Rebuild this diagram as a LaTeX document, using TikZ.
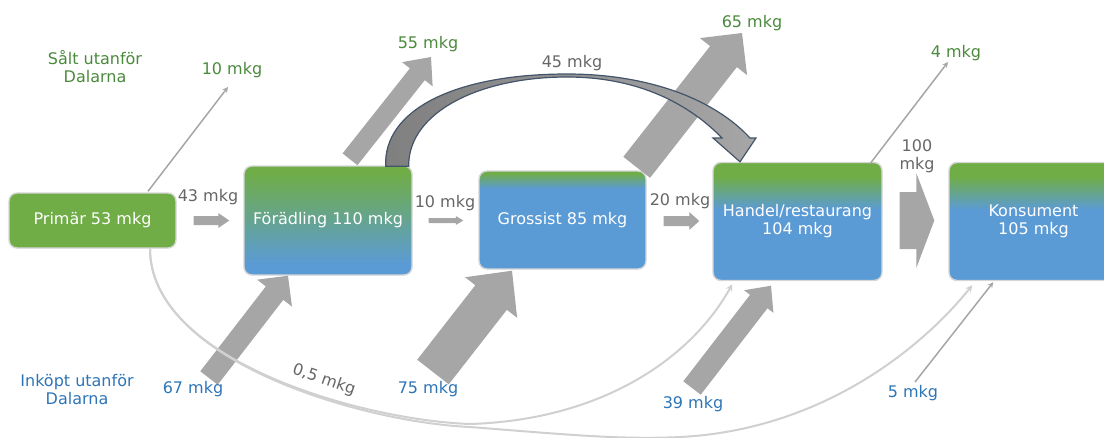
\documentclass[tikz,border=0pt]{standalone}
\usepackage{fontspec}
\setmainfont{DejaVu Sans}
\usetikzlibrary{calc}
\definecolor{boxgreen}{HTML}{70AD47}
\definecolor{boxblue}{HTML}{5B9BD5}
\definecolor{boxedge}{HTML}{D6D6D6}
\definecolor{flowgray}{HTML}{A6A6A6}
\definecolor{curvegray}{HTML}{D0D0D0}
\definecolor{arcdark}{HTML}{7F7F7F}
\definecolor{arcedge}{HTML}{44546A}
\definecolor{labgray}{HTML}{666666}
\definecolor{labgreen}{HTML}{4A8A3C}
\definecolor{labblue}{HTML}{2E75B6}
% box shadings, green on top
\pgfdeclareverticalshading{fshade}{100bp}{color(0bp)=(boxblue); color(30bp)=(boxblue); color(72bp)=(boxgreen); color(100bp)=(boxgreen)}
\pgfdeclareverticalshading{gshade}{100bp}{color(0bp)=(boxblue); color(66bp)=(boxblue); color(74bp)=(boxgreen); color(100bp)=(boxgreen)}
\pgfdeclareverticalshading{hshade}{100bp}{color(0bp)=(boxblue); color(55bp)=(boxblue); color(69bp)=(boxgreen); color(100bp)=(boxgreen)}
\begin{document}
\begin{tikzpicture}[x=1pt,y=-1pt,
	box/.style={rectangle,rounded corners=8pt,draw=boxedge,line width=1.4pt,text=white,align=center,inner sep=0pt,font=\fontsize{16}{18}\selectfont},
	lab/.style={align=center,inner sep=0pt,font=\fontsize{16}{18}\selectfont},
	thinflow/.style={draw=flowgray,line width=1.5pt,->,>=stealth},
	curveflow/.style={draw=curvegray,line width=2pt,->,>=stealth}]
	\useasboundingbox (0,0) rectangle (1104,437);
	% boxes
	\node[box,fill=boxgreen,minimum width=167pt,minimum height=55pt] (primar) at (92.5,220.5) {Primär 53 mkg};
	\node[box,shade,shading=fshade,minimum width=168pt,minimum height=109pt] (foradling) at (328,220.5) {Förädling 110 mkg};
	\node[box,shade,shading=gshade,minimum width=167pt,minimum height=98pt] (grossist) at (562.5,220) {Grossist 85 mkg};
	\node[box,shade,shading=hshade,minimum width=169pt,minimum height=118pt] (handel) at (797.5,221.5) {Handel/restaurang\\104 mkg};
	\node[box,shade,shading=hshade,minimum width=169pt,minimum height=118pt] (konsument) at (1033.5,221.5) {Konsument\\105 mkg};
	% block arrows
	\coordinate (a43s) at ($(primar.east)+(17,0)$);
	\coordinate (a43e) at ($(foradling.west)+(-14,0)$);
	\coordinate (a10s) at ($(foradling.east)+(16,0)$);
	\coordinate (a10e) at ($(grossist.west)+(-15,0.5)$);
	\coordinate (a20s) at ($(grossist.east)+(17,1)$);
	\coordinate (a20e) at ($(handel.west)+(-13,-0.5)$);
	\coordinate (a100s) at ($(handel.east)+(17,-1)$);
	\coordinate (a100e) at ($(konsument.west)+(-14,-1)$);
	\coordinate (a55s) at ($(foradling.north)+(22,-6)$);
	\coordinate (a55e) at (431,57);
	\coordinate (a65s) at ($(grossist.north east)+(-10,-3)$);
	\coordinate (a65e) at (742,33);
	\coordinate (a67s) at (209,378);
	\coordinate (a67e) at ($(foradling.south)+(-40,0)$);
	\coordinate (a75s) at (433,372);
	\coordinate (a75e) at ($(grossist.south)+(-50.5,1)$);
	\coordinate (a39s) at (692,388);
	\coordinate (a39e) at ($(handel.south)+(-26.5,4.5)$);
	\foreach \s/\t/\w/\h/\l in {a43s/a43e/4.5pt/7.5pt/11pt,a10s/a10e/2.5pt/4.5pt/7.5pt,a20s/a20e/5pt/9pt/10pt,a100s/a100e/28.5pt/47.5pt/18pt,a55s/a55e/9.5pt/19.5pt/22pt,a65s/a65e/17pt/30pt/30pt,a67s/a67e/11pt/22pt/22pt,a75s/a75e/20pt/33pt/34pt,a39s/a39e/11pt/18.5pt/20pt}{
		\coordinate (hb) at ($(\t)!\l!(\s)$);
		\fill[flowgray] ($(\s)!\w!90:(\t)$)--($(hb)!\w!90:(\t)$)--($(hb)!\h!90:(\t)$)--(\t)--($(hb)!\h!-90:(\t)$)--($(hb)!\w!-90:(\t)$)--($(\s)!\w!-90:(\t)$)--cycle;
	}
	% curved arrow 45 mkg
	\draw[arcedge,line width=1.2pt,left color=arcdark,right color=flowgray] ($(foradling.north east)+(-27,1)$) .. controls (383,110) and (455,74) .. (567,74) .. controls (650,74) and (715,100) .. (750,138)--(756,138)--($(handel.north)+(-57.5,0)$)--(713,138)--(722,138) .. controls (690,105) and (640,77) .. (567,77) .. controls (480,77) and (408,112) .. ($(foradling.north east)+(-4,1)$)--cycle;
	% thin arrows
	\coordinate (s10) at (228,87);
	\coordinate (s4) at (948,62);
	\coordinate (i5) at (915,382);
	\draw[thinflow] ($(primar.north)+(55.5,-1)$)--(s10);
	\draw[thinflow] ($(handel.north)+(72.5,2)$)--(s4);
	\draw[thinflow] (i5)--($(konsument.south west)+(45,1)$);
	\draw[curveflow] ($(primar.south)+(57.5,0)$) .. controls (150,360) and (360,420) .. (470,424) .. controls (600,420) and (690,360) .. ($(handel.south west)+(20,3)$);
	\draw[curveflow] ($(primar.south)+(57.5,0)$) .. controls (150,360) and (360,422) .. (470,427) .. controls (560,434) and (620,440) .. (680,437) .. controls (820,430) and (920,350) .. ($(konsument.south west)+(24,4)$);
	% labels
	\node[lab,text=labgreen] (salt) at (95,67) {Sålt utanför\\Dalarna};
	\node[lab,text=labblue] (inkopt) at (77,390) {Inköpt utanför\\Dalarna};
	\node[lab,text=labgreen] (l10) at (232,70) {10 mkg};
	\node[lab,text=labgreen] (l55) at (428,44) {55 mkg};
	\node[lab,text=labgray] (l45) at (572,63) {45 mkg};
	\node[lab,text=labgreen] (l65) at (752,23) {65 mkg};
	\node[lab,text=labgreen] (l4) at (956,53) {4 mkg};
	\node[lab,text=labgray] (l100) at (917,156) {100\\mkg};
	\node[lab,text=labgray] (l43) at (208,197) {43 mkg};
	\node[lab,text=labgray] (l10b) at (445,203) {10 mkg};
	\node[lab,text=labgray] (l20) at (680,201) {20 mkg};
	\node[lab,text=labblue] (l67) at (193,389) {67 mkg};
	\node[lab,text=labblue] (l75) at (428,389) {75 mkg};
	\node[lab,text=labblue] (l39) at (693,404) {39 mkg};
	\node[lab,text=labblue] (l5) at (913,393) {5 mkg};
	\node[lab,text=labgray,rotate=-19] (l05) at (324,380) {0,5 mkg};
\end{tikzpicture}
\end{document}
